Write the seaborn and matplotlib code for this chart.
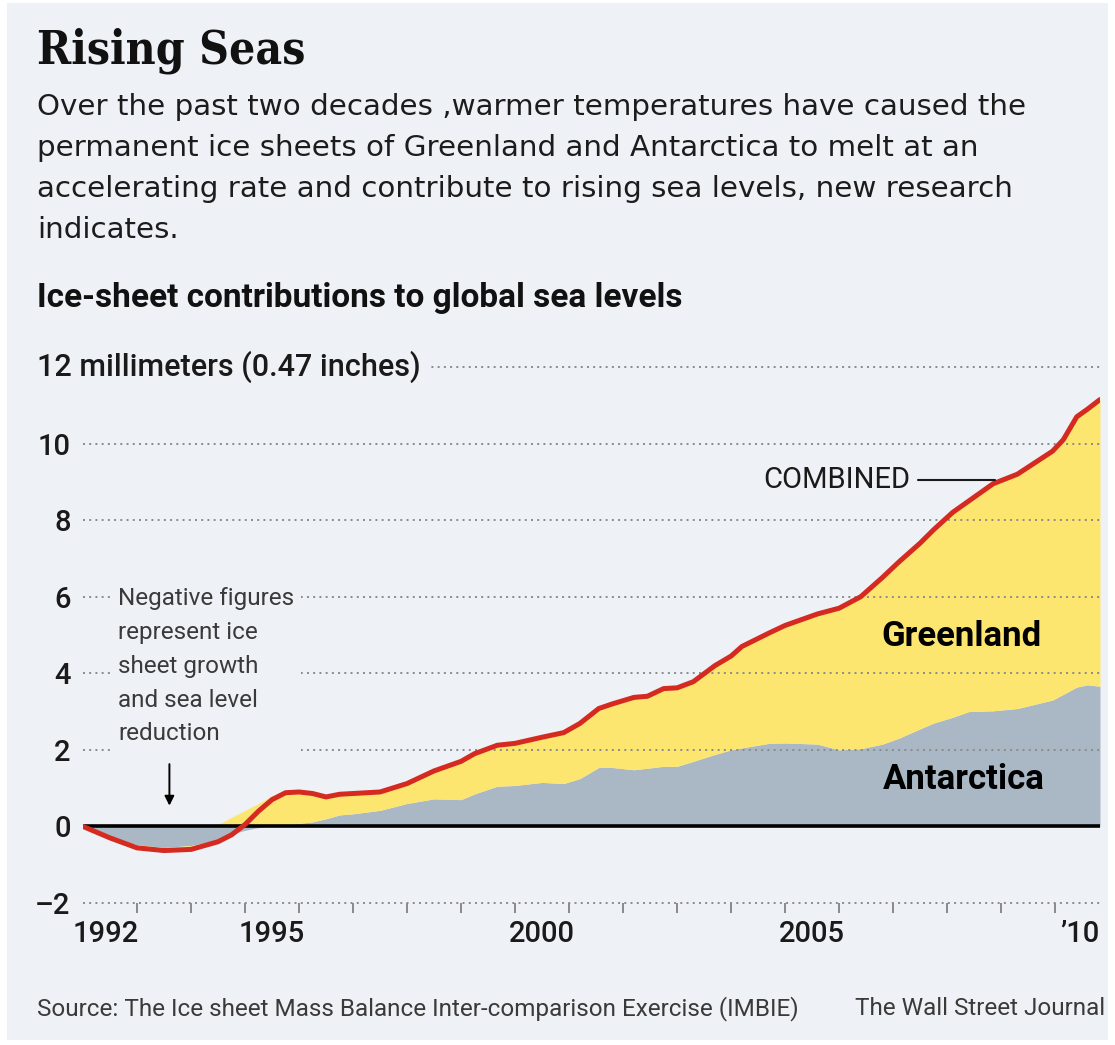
import numpy as np
import pandas as pd
import seaborn as sns
from matplotlib import pyplot as plt

# Values (mm of sea-level contribution)
years = [1992.0, 1992.5, 1993.0, 1993.5, 1994.0, 1994.5, 1994.75, 1995.0, 1995.25, 1995.5,
         1995.75, 1996.0, 1996.25, 1996.5, 1996.75, 1997.0, 1997.5, 1998.0, 1998.5, 1999.0,
         1999.25, 1999.67, 2000.0, 2000.5, 2000.9, 2001.2, 2001.55, 2001.8, 2002.2, 2002.45,
         2002.75, 2003.0, 2003.3, 2003.7, 2004.0, 2004.2, 2004.7, 2005.0, 2005.6, 2006.0,
         2006.4, 2006.8, 2007.1, 2007.5, 2007.75, 2008.1, 2008.4, 2008.85, 2009.3, 2009.95,
         2010.15, 2010.4, 2010.6, 2010.83]

combined = [0.0, -0.3, -0.56, -0.63, -0.6, -0.4, -0.22, 0.05, 0.4, 0.7,
            0.88, 0.9, 0.86, 0.77, 0.84, 0.86, 0.9, 1.12, 1.45, 1.7,
            1.9, 2.12, 2.17, 2.33, 2.45, 2.69, 3.08, 3.2, 3.37, 3.4,
            3.6, 3.62, 3.78, 4.2, 4.45, 4.7, 5.05, 5.25, 5.55, 5.7,
            6.0, 6.5, 6.9, 7.4, 7.75, 8.2, 8.5, 8.95, 9.2, 9.8,
            10.1, 10.7, 10.9, 11.15]

antarctica = [0.0, -0.28, -0.48, -0.55, -0.5, -0.35, -0.2, -0.1, -0.03, 0.02,
              0.05, 0.08, 0.12, 0.2, 0.3, 0.33, 0.42, 0.6, 0.72, 0.7,
              0.85, 1.05, 1.07, 1.15, 1.12, 1.25, 1.54, 1.54, 1.48, 1.52,
              1.57, 1.57, 1.7, 1.88, 2.0, 2.05, 2.17, 2.18, 2.15, 2.0,
              2.03, 2.15, 2.3, 2.55, 2.7, 2.85, 3.0, 3.02, 3.08, 3.3,
              3.45, 3.64, 3.7, 3.66]

greenland = [0.0, -0.03, -0.08, -0.08, -0.05, 0.05, 0.24, 0.42, 0.6, 0.78,
             0.83, 0.82, 0.74, 0.57, 0.54, 0.53, 0.48, 0.52, 0.73, 1.0,
             1.05, 1.07, 1.1, 1.18, 1.33, 1.44, 1.54, 1.66, 1.89, 1.88,
             2.03, 2.05, 2.08, 2.32, 2.45, 2.65, 2.88, 3.07, 3.4, 3.7,
             3.97, 4.35, 4.6, 4.85, 5.05, 5.35, 5.5, 5.93, 6.12, 6.5,
             6.65, 7.06, 7.2, 7.49]

y_ticks = [-2, 0, 2, 4, 6, 8, 10]
y_tick_labels = ["\u20132", "0", "2", "4", "6", "8", "10"]
x_label_pos = [1992.42, 1995.5, 2000.5, 2005.5, 2010.45]
x_labels = ["1992", "1995", "2000", "2005", "\u201910"]
year_ticks = list(range(1993, 2011))

df = pd.DataFrame({"year": years, "combined": combined,
                   "antarctica": antarctica, "greenland": greenland})

BG = "#eef1f6"
YELLOW = "#fde670"
GREY = "#aab8c6"
RED = "#d52a20"
W, H = 1115, 1045

sns.set_theme(style="white")
plt.rcParams["font.family"] = ["Roboto", "DejaVu Sans"]

fig = plt.figure(figsize=(W / 100, H / 100), dpi=100)
fig.patch.set_facecolor("white")
fig.patches.append(plt.Rectangle((7 / W, 1 - 1040 / H), 1101 / W, 1037 / H,
                                 transform=fig.transFigure, facecolor=BG,
                                 edgecolor="none", zorder=-10))


def fx(x):
    return x / W


def fy(y):
    return 1 - y / H


ax = fig.add_axes([fx(83), fy(903), fx(1100) - fx(83), fy(367) - fy(903)])
ax.set_facecolor("none")

# diverging stack: positive parts stack up from zero, negative parts down
ant = df["antarctica"].to_numpy()
gre = df["greenland"].to_numpy()
pos_base = np.maximum(ant, 0)
neg_base = np.minimum(ant, 0)
ax.fill_between(df["year"], 0, ant, color=GREY, lw=0, zorder=1)
ax.fill_between(df["year"], pos_base, pos_base + np.maximum(gre, 0), color=YELLOW, lw=0, zorder=1)
ax.fill_between(df["year"], neg_base + np.minimum(gre, 0), neg_base, color=YELLOW, lw=0, zorder=1)

# dotted grid lines
for v in y_ticks + [12]:
    ax.axhline(v, color="#8a8a8a", lw=1.4, ls=(0, (1, 2.2)), zorder=2, clip_on=False)
ax.axhline(0, color="black", lw=2.6, zorder=3)

sns.lineplot(data=df, x="year", y="combined", ax=ax, color=RED, lw=3.6,
             zorder=4, legend=False)

ax.set_xlim(1992.0, 2010.83)
ax.set_ylim(-2, 12)
for s in ax.spines.values():
    s.set_visible(False)

ax.set_yticks(y_ticks)
ax.set_yticklabels(y_tick_labels, fontsize=21, fontweight="medium", color="#1a1a1a")
ax.tick_params(axis="y", length=0, pad=9)

ax.set_xticks(year_ticks, minor=True)
ax.set_xticks(x_label_pos)
ax.set_xticklabels(x_labels, fontsize=21, fontweight="medium", color="#1a1a1a")
ax.tick_params(axis="x", which="major", length=0, pad=12)
ax.tick_params(axis="x", which="minor", length=7, width=1.2, color="#777777",
               direction="out", bottom=True)
ax.set_xlabel("")
ax.set_ylabel("")

ax.text(1992 - 46 / 54, 12, "12 millimeters (0.47 inches)", transform=ax.transData,
        ha="left", va="center", fontsize=22, fontweight="medium", color="#1a1a1a",
        bbox=dict(facecolor=BG, edgecolor="none", pad=6), zorder=5)

ax.text(1992.65, 6.25, "Negative figures\nrepresent ice\nsheet growth\nand sea level\nreduction",
        ha="left", va="top", fontsize=17.5, color="#3a3a3a", linespacing=1.6,
        bbox=dict(facecolor=BG, edgecolor="none", pad=5), zorder=5)
ax.annotate("", xy=(1993.6, 0.47), xytext=(1993.6, 1.7),
            arrowprops=dict(arrowstyle="-|>", color="black", lw=1.4, mutation_scale=14),
            zorder=5)

ax.text(2007.31, 9.05, "COMBINED", ha="right", va="center", fontsize=21,
        color="#1a1a1a", zorder=5)
ax.plot([2007.46, 2008.89], [9.05, 9.05], color="#1a1a1a", lw=1.5, zorder=5)

ax.text(2008.26, 4.97, "Greenland", ha="center", va="center", fontsize=25,
        fontweight="bold", color="black", zorder=5)
ax.text(2008.31, 1.23, "Antarctica", ha="center", va="center", fontsize=25,
        fontweight="bold", color="black", zorder=5)

# header texts
fig.text(fx(37), fy(63), "Rising Seas", ha="left", va="baseline", fontsize=33,
         fontweight="bold", family=["DejaVu Serif"], fontstretch="condensed",
         color="#111111")
subtitle = ["Over the past two decades ,warmer temperatures have caused the",
            "permanent ice sheets of Greenland and Antarctica to melt at an",
            "accelerating rate and contribute to rising sea levels, new research",
            "indicates."]
for i, line in enumerate(subtitle):
    fig.text(fx(37), fy(115 + 41 * i), line, ha="left", va="baseline",
             fontsize=21.2, family=["DejaVu Sans"], color="#1c1c1c")
fig.text(fx(37), fy(307), "Ice-sheet contributions to global sea levels",
         ha="left", va="baseline", fontsize=24, fontweight="bold", color="#111111")

fig.text(fx(37), fy(1015), "Source: The Ice sheet Mass Balance Inter-comparison Exercise (IMBIE)",
         ha="left", va="baseline", fontsize=17.5, color="#3a3a3a")
fig.text(fx(1105), fy(1015), "The Wall Street Journal", ha="right", va="baseline",
         fontsize=17.5, color="#3a3a3a")

fig.savefig("out.png", dpi=100, facecolor=fig.get_facecolor())
